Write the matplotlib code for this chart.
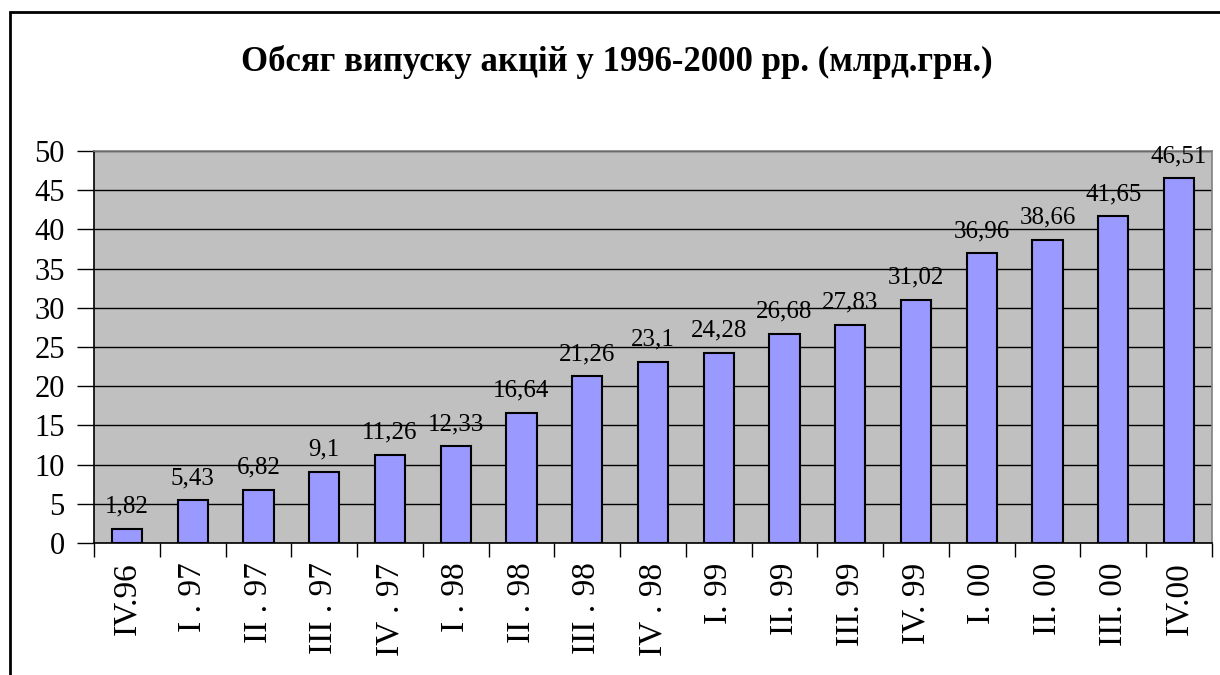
import matplotlib.pyplot as plt
import matplotlib.patches as patches
import numpy as np

# Дані
kvartaly = ['IV.96', 'I . 97', 'II . 97', 'III . 97', 'IV . 97', 'I . 98', 'II . 98',
            'III . 98', 'IV . 98', 'I. 99', 'II. 99', 'III. 99', 'IV. 99', 'I. 00',
            'II. 00', 'III. 00', 'IV.00']
obsyag = [1.82, 5.43, 6.82, 9.1, 11.26, 12.33, 16.64, 21.26, 23.1, 24.28, 26.68,
          27.83, 31.02, 36.96, 38.66, 41.65, 46.51]
pidpysy = ['1,82', '5,43', '6,82', '9,1', '11,26', '12,33', '16,64', '21,26', '23,1',
           '24,28', '26,68', '27,83', '31,02', '36,96', '38,66', '41,65', '46,51']
zaholovok = 'Обсяг випуску акцій у 1996-2000 рр. (млрд.грн.)'

plt.rcParams['font.family'] = ['Liberation Serif', 'DejaVu Serif']

fig = plt.figure(figsize=(12.2, 6.75), dpi=100)
ax = fig.add_axes([94 / 1220, 1 - 543 / 675, (1212 - 94) / 1220, (543 - 151) / 675])

# зовнішня рамка
fig.patches.append(patches.Rectangle((10 / 1220, -0.1), 1.2, 1 - 12 / 675 + 0.1,
                                     transform=fig.transFigure, fill=False,
                                     edgecolor='black', linewidth=2))

x = np.arange(len(kvartaly))
ax.set_facecolor('#C0C0C0')
ax.bar(x, obsyag, width=0.46, color='#9999FF', edgecolor='black', linewidth=1.5, zorder=3)

for xi, v, t in zip(x, obsyag, pidpysy):
    ax.annotate(t, (xi, v), xytext=(0, 8), textcoords='offset points',
                ha='center', va='bottom', fontsize=18, zorder=4)

ax.set_xlim(-0.5, len(kvartaly) - 0.5)
ax.set_ylim(0, 50)
ax.set_yticks(range(0, 51, 5))
ax.yaxis.grid(True, color='black', linewidth=1, zorder=1)
ax.set_axisbelow(True)

ax.set_xticks(x)
ax.set_xticklabels(kvartaly, rotation=90, fontsize=24)
ax.set_xticks(np.arange(-0.5, len(kvartaly)), minor=True)
ax.tick_params(axis='x', which='major', length=0, pad=14)
ax.tick_params(axis='x', which='minor', length=10, width=1, direction='out')
ax.tick_params(axis='y', length=12, width=1, labelsize=22, pad=9)

ax.spines['left'].set_color('black')
ax.spines['bottom'].set_color('black')
ax.spines['top'].set_color('#808080')
ax.spines['right'].set_color('#808080')
for s in ax.spines.values():
    s.set_linewidth(1.2)

fig.text(617 / 1220, 1 - 62 / 675, zaholovok, ha='center', va='center',
         fontsize=25, fontweight='bold')

fig.savefig('out.png', dpi=100)
